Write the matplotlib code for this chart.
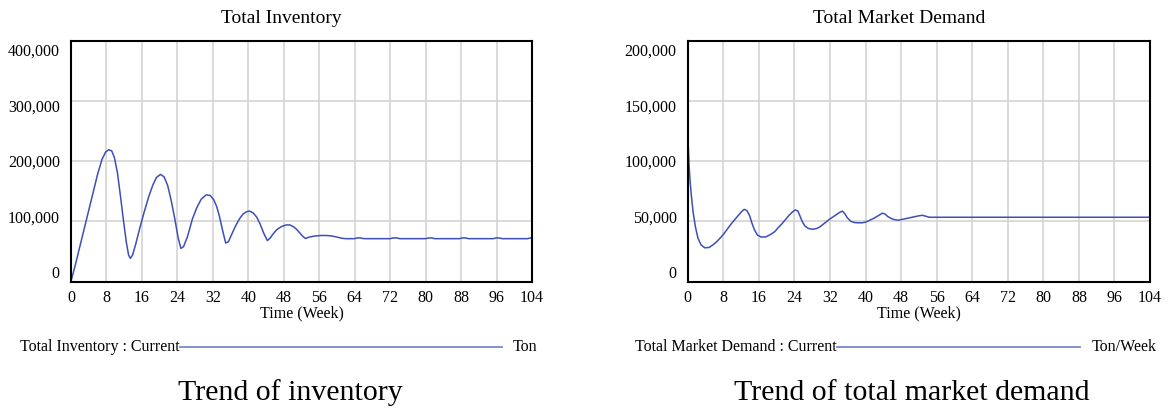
import numpy as np
import matplotlib.pyplot as plt
from matplotlib import transforms

plt.rcParams['font.family'] = ['Liberation Serif', 'DejaVu Serif']

# ---- data ----
x_ticks = [0, 8, 16, 24, 32, 40, 48, 56, 64, 72, 80, 88, 96, 104]
inv_yticks = [0, 100000, 200000, 300000, 400000]
dem_yticks = [0, 50000, 100000, 150000, 200000]

inv_weeks = [0, 1, 2, 3, 4, 5, 6, 7, 7.8, 8.5,
             9.2, 9.8, 10.5, 11.2, 11.8, 12.5, 13.0, 13.4, 13.9, 14.6,
             15.5, 16.5, 17.5, 18.5, 19.3, 20.2, 21.0, 21.8, 22.6, 23.4,
             24.2, 24.8, 25.4, 26.3, 27.4, 28.4, 29.4, 30.5, 31.4, 32.2,
             32.9, 33.5, 34.3, 34.9, 35.5, 36.3, 37.1, 38.0, 38.8, 39.6,
             40.3, 41.1, 41.9, 42.7, 43.5, 44.3, 44.9, 45.6, 46.4, 47.4,
             48.5, 49.4, 50.2, 51.0, 51.7, 52.3, 52.9, 53.6, 54.5, 55.5,
             56.5, 57.5, 58.5, 59.3, 60.2, 61.0, 62.0, 64.0, 64.6, 65.3,
             66.0, 66.8, 72.0, 72.7, 73.5, 74.2, 80.0, 80.7, 81.4, 82.1,
             87.6, 88.3, 89.0, 89.7, 95.2, 95.9, 96.6, 97.3, 103.0, 103.6,
             104]
inv_values = [0, 28000, 58000, 88000, 118000, 148000, 178000, 203000, 215000, 219000,
              217000, 206000, 180000, 140000, 104000, 65000, 44000, 38500, 44000, 62000,
              88000, 115000, 140000, 161000, 173000, 178000, 174000, 160000, 135000, 105000,
              72000, 55000, 58000, 75000, 104000, 123000, 137000, 144000, 143000, 136000,
              124000, 108000, 82000, 64000, 66000, 79000, 92000, 104000, 112000, 116000,
              117000, 114000, 107000, 95000, 80000, 68000, 72000, 79000, 86000, 91000,
              94000, 94000, 91000, 86000, 80000, 75000, 71500, 73500, 75000, 76000,
              76500, 76500, 76000, 75000, 73500, 72000, 71200, 71200, 72500, 72500,
              71300, 71200, 71200, 72400, 72400, 71200, 71200, 72400, 72400, 71200,
              71200, 72400, 72400, 71200, 71200, 72400, 72400, 71200, 71200, 72400,
              72400]

dem_weeks = [0, 0.1, 0.3, 0.5, 0.8, 1.2, 1.7, 2.3, 3.0, 3.8,
             4.8, 5.7, 6.5, 7.4, 8.2, 9.0, 9.8, 10.6, 11.4, 12.1,
             12.7, 13.3, 13.9, 14.4, 15.0, 15.7, 16.5, 17.5, 18.5, 19.6,
             20.4, 21.2, 22.0, 22.8, 23.6, 24.2, 24.8, 25.3, 25.8, 26.4,
             27.2, 28.1, 29.0, 29.8, 30.8, 31.8, 32.6, 33.4, 34.2, 34.8,
             35.3, 35.9, 36.7, 37.5, 38.3, 39.2, 40.0, 41.0, 42.0, 43.0,
             43.8, 44.4, 45.0, 45.8, 46.6, 47.4, 48.2, 49.0, 50.0, 51.0,
             52.0, 52.8, 53.5, 54.3, 104]
dem_values = [138000, 115000, 97000, 85000, 72000, 58000, 46000, 36000, 30500, 28000,
              28300, 30500, 33000, 36500, 40000, 44000, 48000, 51500, 55000, 58000,
              60000, 59000, 55000, 49000, 43000, 38500, 37000, 37000, 38800, 41500,
              45000, 48000, 51500, 55000, 58000, 59500, 58500, 54000, 49500, 46000,
              44000, 43400, 44000, 45600, 48500, 51500, 53500, 55500, 57500, 58500,
              56500, 53000, 50000, 49000, 48800, 48800, 49300, 51000, 52800, 55000,
              56800, 56000, 54000, 52300, 51300, 51000, 51600, 52200, 53000, 53800,
              54600, 55000, 54300, 53400, 53400]

line_color = '#3d4fb8'
legend_color = '#7a89c8'

fig = plt.figure(figsize=(11.69, 4.08), dpi=100)
ax_inv = fig.add_axes([0.0607, 0.310, 0.3944, 0.590])
ax_dem = fig.add_axes([0.5883, 0.310, 0.3955, 0.590])


def style_axes(ax, yticks, title, var_label, unit, text_x0):
    ax.set_xlim(0, 104)
    ax.set_ylim(yticks[0], yticks[-1])
    ax.set_xticks(x_ticks)
    ax.set_yticks(yticks)
    ax.set_xticklabels([str(t) for t in x_ticks], fontsize=11.5)
    ax.set_yticklabels(['{:,}'.format(t) for t in yticks], fontsize=11.5)
    ax.tick_params(length=0, pad=6)
    ax.tick_params(axis='y', pad=8)
    ax.grid(color='#d4d4d4', linewidth=1.2)
    ax.set_axisbelow(True)
    for sp in ax.spines.values():
        sp.set_linewidth(1.5)
        sp.set_color('black')

    # y labels sit a bit closer together than the grid lines
    n = len(yticks)
    for i, lab in enumerate(ax.get_yticklabels()):
        dy_px = 9.3 - (n - 1 - i) * 4.7
        lab.set_transform(lab.get_transform() +
                          transforms.ScaledTranslation(0, -dy_px / 100, fig.dpi_scale_trans))

    ax.text(0.457, 1.093, title, transform=ax.transAxes, ha='center', va='center',
            fontsize=14)
    ax.text(0.5, -0.131, 'Time (Week)', transform=ax.transAxes, ha='center',
            va='center', fontsize=11.5)

    # legend row under the plot
    ax.text(text_x0, -0.272, var_label, transform=ax.transAxes, ha='right',
            va='center', fontsize=11.5)
    return ax


style_axes(ax_inv, inv_yticks, 'Total Inventory', 'Total Inventory : Current', 'Ton', 0.2364)
style_axes(ax_dem, dem_yticks, 'Total Market Demand', 'Total Market Demand : Current',
           'Ton/Week', 0.323)

ax_inv.plot(inv_weeks, inv_values, color=line_color, linewidth=1.1, clip_on=False)
ax_dem.plot(dem_weeks, dem_values, color=line_color, linewidth=1.1)

# legend lines + units
ax_inv.plot([0.2364, 0.935], [-0.272, -0.272], transform=ax_inv.transAxes,
            color=legend_color, linewidth=1.3, clip_on=False)
ax_inv.text(0.959, -0.272, 'Ton', transform=ax_inv.transAxes, ha='left',
            va='center', fontsize=11.5)
ax_dem.plot([0.323, 0.849], [-0.272, -0.272], transform=ax_dem.transAxes,
            color=legend_color, linewidth=1.3, clip_on=False)
ax_dem.text(0.8746, -0.272, 'Ton/Week', transform=ax_dem.transAxes, ha='left',
            va='center', fontsize=11.5)

# captions
fig.text(290 / 1169, 1 - 393 / 408, 'Trend of inventory', ha='center', va='center',
         fontsize=21.5)
fig.text(912 / 1169, 1 - 393 / 408, 'Trend of total market demand', ha='center',
         va='center', fontsize=21.5)

fig.savefig('out.png', dpi=100)
